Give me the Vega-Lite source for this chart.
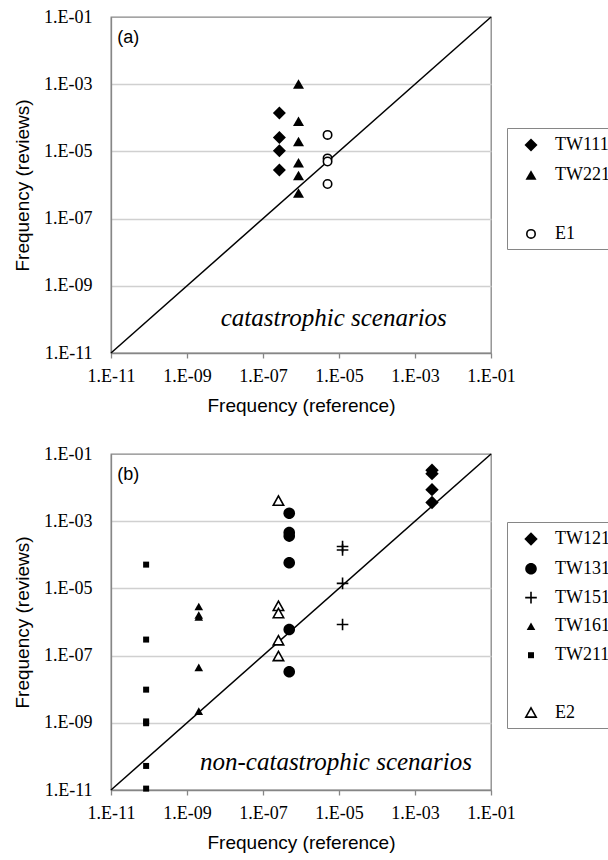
{
  "$schema": "https://vega.github.io/schema/vega-lite/v6.json",
  "autosize": {"type": "pad"},
  "padding": {"left": 12, "top": 7, "right": 0, "bottom": 0},
  "bounds": "flush",
  "spacing": 101,
  "datasets": {
    "diag": [
      {"ref": 1e-11, "rev": 1e-11},
      {"ref": 0.1, "rev": 0.1}
    ],
    "pointsA": [
      {"series": "TW111", "ref": 2.7e-7, "rev": 1.4e-4},
      {"series": "TW111", "ref": 2.7e-7, "rev": 2.6e-5},
      {"series": "TW111", "ref": 2.7e-7, "rev": 1.05e-5},
      {"series": "TW111", "ref": 2.7e-7, "rev": 2.8e-6},
      {"series": "TW221", "ref": 8.6e-7, "rev": 1.0e-3},
      {"series": "TW221", "ref": 8.6e-7, "rev": 7.7e-5},
      {"series": "TW221", "ref": 8.6e-7, "rev": 1.95e-5},
      {"series": "TW221", "ref": 8.6e-7, "rev": 4.5e-6},
      {"series": "TW221", "ref": 8.6e-7, "rev": 1.9e-6},
      {"series": "TW221", "ref": 8.6e-7, "rev": 5.7e-7},
      {"series": "E1", "ref": 5.0e-6, "rev": 3.1e-5},
      {"series": "E1", "ref": 5.0e-6, "rev": 6.2e-6},
      {"series": "E1", "ref": 5.0e-6, "rev": 5.0e-6},
      {"series": "E1", "ref": 5.0e-6, "rev": 1.07e-6}
    ],
    "pointsB": [
      {"series": "TW121", "ref": 2.8e-3, "rev": 3.3e-2},
      {"series": "TW121", "ref": 2.8e-3, "rev": 2.6e-2},
      {"series": "TW121", "ref": 2.8e-3, "rev": 8.7e-3},
      {"series": "TW121", "ref": 2.8e-3, "rev": 3.6e-3},
      {"series": "TW131", "ref": 4.9e-7, "rev": 1.73e-3},
      {"series": "TW131", "ref": 4.9e-7, "rev": 4.6e-4},
      {"series": "TW131", "ref": 4.9e-7, "rev": 3.6e-4},
      {"series": "TW131", "ref": 4.9e-7, "rev": 5.8e-5},
      {"series": "TW131", "ref": 4.9e-7, "rev": 6.0e-7},
      {"series": "TW131", "ref": 4.9e-7, "rev": 3.3e-8},
      {"series": "TW151", "ref": 1.24e-5, "rev": 1.76e-4},
      {"series": "TW151", "ref": 1.24e-5, "rev": 1.39e-4},
      {"series": "TW151", "ref": 1.24e-5, "rev": 1.41e-5},
      {"series": "TW151", "ref": 1.24e-5, "rev": 8.4e-7},
      {"series": "TW161", "ref": 2.04e-9, "rev": 2.84e-6},
      {"series": "TW161", "ref": 2.04e-9, "rev": 1.6e-6},
      {"series": "TW161", "ref": 2.04e-9, "rev": 1.4e-6},
      {"series": "TW161", "ref": 2.04e-9, "rev": 4.4e-8},
      {"series": "TW161", "ref": 2.04e-9, "rev": 2.2e-9},
      {"series": "TW211", "ref": 8.4e-11, "rev": 5.1e-5},
      {"series": "TW211", "ref": 8.4e-11, "rev": 3.0e-7},
      {"series": "TW211", "ref": 8.4e-11, "rev": 9.7e-9},
      {"series": "TW211", "ref": 8.4e-11, "rev": 1.1e-9},
      {"series": "TW211", "ref": 8.4e-11, "rev": 9.7e-10},
      {"series": "TW211", "ref": 8.4e-11, "rev": 5.2e-11},
      {"series": "TW211", "ref": 8.4e-11, "rev": 1.1e-11},
      {"series": "E2", "ref": 2.55e-7, "rev": 4.0e-3},
      {"series": "E2", "ref": 2.55e-7, "rev": 2.96e-6},
      {"series": "E2", "ref": 2.55e-7, "rev": 1.8e-6},
      {"series": "E2", "ref": 2.55e-7, "rev": 2.8e-7},
      {"series": "E2", "ref": 2.55e-7, "rev": 9.5e-8}
    ],
    "tagA": [{"ref": 1.45e-11, "rev": 2.3e-2, "label": "(a)"}],
    "noteA": [{"ref": 7.7e-9, "rev": 6.5e-11, "label": "catastrophic scenarios"}],
    "tagB": [{"ref": 1.45e-11, "rev": 2.3e-2, "label": "(b)"}],
    "noteB": [{"ref": 2.2e-9, "rev": 3.95e-11, "label": "non-catastrophic scenarios"}]
  },
  "vconcat": [
    {
      "width": 380,
      "height": 336,
      "layer": [
        {
          "data": {"name": "diag"},
          "mark": {"type": "line", "color": "black", "strokeWidth": 1.5},
          "encoding": {
            "x": {
              "field": "ref", "type": "quantitative",
              "scale": {"type": "log", "domain": [1e-11, 0.1], "nice": false},
              "axis": {
                "title": "Frequency (reference)",
                "values": [1e-11, 1e-9, 1e-7, 1e-5, 1e-3, 0.1],
                "labelExpr": "(round(log(datum.value)/LN10) > -10 ? '1.E-0' : '1.E-') + abs(round(log(datum.value)/LN10))",
                "grid": false, "tickSize": 5, "labelPadding": 9,
                "labelFlush": false, "labelOverlap": false,
                "titleY": 52, "titleBaseline": "middle"
              }
            },
            "y": {
              "field": "rev", "type": "quantitative",
              "scale": {"type": "log", "domain": [1e-11, 0.1], "nice": false},
              "axis": {
                "title": "Frequency (reviews)",
                "values": [1e-11, 1e-9, 1e-7, 1e-5, 1e-3, 0.1],
                "labelExpr": "(round(log(datum.value)/LN10) > -10 ? '1.E-0' : '1.E-') + abs(round(log(datum.value)/LN10))",
                "ticks": false, "labelPadding": 19,
                "labelFlush": false, "labelOverlap": false,
                "grid": true,
                "gridOpacity": {"condition": {"test": "datum.value > 0.05 || datum.value < 5e-11", "value": 0}, "value": 1},
                "titleX": -89, "titleBaseline": "middle"
              }
            }
          }
        },
        {
          "data": {"name": "pointsA"},
          "mark": {"type": "point", "opacity": 1, "size": 400, "strokeWidth": 1.6},
          "encoding": {
            "x": {"field": "ref", "type": "quantitative"},
            "y": {"field": "rev", "type": "quantitative"},
            "shape": {
              "field": "series", "type": "nominal",
              "scale": {
                "domain": ["TW111", "TW221", " ", "E1"],
                "range": [
                  "M0,-0.65L0.65,0L0,0.65L-0.65,0Z",
                  "M0,-0.5L0.55,0.45L-0.55,0.45Z",
                  "M0,0",
                  "M-0.42,0A0.42,0.42,0,1,1,0.42,0A0.42,0.42,0,1,1,-0.42,0Z"
                ]
              },
              "legend": {
                "orient": "none", "legendX": 396, "legendY": 111,
                "title": null, "strokeColor": "#868686", "fillColor": "white",
                "padding": 6, "symbolSize": 400, "symbolStrokeWidth": 1.6,
                "symbolOpacity": 1, "rowPadding": 9.3,
                "symbolOffset": 7, "labelOffset": 13,
                "labelFont": "Liberation Serif", "labelFontSize": 18, "labelColor": "black"
              }
            },
            "fill": {
              "field": "series", "type": "nominal",
              "scale": {"domain": ["TW111", "TW221", " ", "E1"], "range": ["black", "black", "transparent", "white"]}
            },
            "stroke": {
              "field": "series", "type": "nominal",
              "scale": {"domain": ["TW111", "TW221", " ", "E1"], "range": ["transparent", "transparent", "transparent", "black"]}
            }
          }
        },
        {
          "data": {"name": "tagA"},
          "mark": {"type": "text", "font": "Liberation Sans", "fontSize": 18, "align": "left", "baseline": "middle", "color": "black"},
          "encoding": {
            "x": {"field": "ref", "type": "quantitative"},
            "y": {"field": "rev", "type": "quantitative"},
            "text": {"field": "label"}
          }
        },
        {
          "data": {"name": "noteA"},
          "mark": {"type": "text", "font": "Liberation Serif", "fontStyle": "italic", "fontSize": 25, "align": "left", "baseline": "alphabetic", "color": "black"},
          "encoding": {
            "x": {"field": "ref", "type": "quantitative"},
            "y": {"field": "rev", "type": "quantitative"},
            "text": {"field": "label"}
          }
        }
      ]
    },
    {
      "width": 380,
      "height": 336,
      "layer": [
        {
          "data": {"name": "diag"},
          "mark": {"type": "line", "color": "black", "strokeWidth": 1.5},
          "encoding": {
            "x": {
              "field": "ref", "type": "quantitative",
              "scale": {"type": "log", "domain": [1e-11, 0.1], "nice": false},
              "axis": {
                "title": "Frequency (reference)",
                "values": [1e-11, 1e-9, 1e-7, 1e-5, 1e-3, 0.1],
                "labelExpr": "(round(log(datum.value)/LN10) > -10 ? '1.E-0' : '1.E-') + abs(round(log(datum.value)/LN10))",
                "grid": false, "tickSize": 5, "labelPadding": 9,
                "labelFlush": false, "labelOverlap": false,
                "titleY": 52, "titleBaseline": "middle"
              }
            },
            "y": {
              "field": "rev", "type": "quantitative",
              "scale": {"type": "log", "domain": [1e-11, 0.1], "nice": false},
              "axis": {
                "title": "Frequency (reviews)",
                "values": [1e-11, 1e-9, 1e-7, 1e-5, 1e-3, 0.1],
                "labelExpr": "(round(log(datum.value)/LN10) > -10 ? '1.E-0' : '1.E-') + abs(round(log(datum.value)/LN10))",
                "ticks": false, "labelPadding": 19,
                "labelFlush": false, "labelOverlap": false,
                "grid": true,
                "gridOpacity": {"condition": {"test": "datum.value > 0.05 || datum.value < 5e-11", "value": 0}, "value": 1},
                "titleX": -89, "titleBaseline": "middle"
              }
            }
          }
        },
        {
          "data": {"name": "pointsB"},
          "mark": {"type": "point", "opacity": 1, "size": 400, "strokeWidth": 1.6},
          "encoding": {
            "x": {"field": "ref", "type": "quantitative"},
            "y": {"field": "rev", "type": "quantitative"},
            "shape": {
              "field": "series", "type": "nominal",
              "scale": {
                "domain": ["TW121", "TW131", "TW151", "TW161", "TW211", " ", "E2"],
                "range": [
                  "M0,-0.67L0.67,0L0,0.67L-0.67,0Z",
                  "M-0.58,0A0.58,0.58,0,1,1,0.58,0A0.58,0.58,0,1,1,-0.58,0Z",
                  "M-0.58,0L0.58,0M0,-0.58L0,0.58",
                  "M0,-0.4L0.43,0.36L-0.43,0.36Z",
                  "M-0.3,-0.3L0.3,-0.3L0.3,0.3L-0.3,0.3Z",
                  "M0,0",
                  "M0,-0.5L0.52,0.43L-0.52,0.43Z"
                ]
              },
              "legend": {
                "orient": "none", "legendX": 396, "legendY": 68,
                "title": null, "strokeColor": "#868686", "fillColor": "white",
                "padding": 6, "symbolSize": 400, "symbolStrokeWidth": 1.6,
                "symbolOpacity": 1, "rowPadding": 8.8,
                "symbolOffset": 7, "labelOffset": 13,
                "labelFont": "Liberation Serif", "labelFontSize": 18, "labelColor": "black"
              }
            },
            "fill": {
              "field": "series", "type": "nominal",
              "scale": {
                "domain": ["TW121", "TW131", "TW151", "TW161", "TW211", " ", "E2"],
                "range": ["black", "black", "transparent", "black", "black", "transparent", "white"]
              }
            },
            "stroke": {
              "field": "series", "type": "nominal",
              "scale": {
                "domain": ["TW121", "TW131", "TW151", "TW161", "TW211", " ", "E2"],
                "range": ["transparent", "transparent", "black", "transparent", "transparent", "transparent", "black"]
              }
            }
          }
        },
        {
          "data": {"name": "tagB"},
          "mark": {"type": "text", "font": "Liberation Sans", "fontSize": 18, "align": "left", "baseline": "middle", "color": "black"},
          "encoding": {
            "x": {"field": "ref", "type": "quantitative"},
            "y": {"field": "rev", "type": "quantitative"},
            "text": {"field": "label"}
          }
        },
        {
          "data": {"name": "noteB"},
          "mark": {"type": "text", "font": "Liberation Serif", "fontStyle": "italic", "fontSize": 25, "align": "left", "baseline": "alphabetic", "color": "black"},
          "encoding": {
            "x": {"field": "ref", "type": "quantitative"},
            "y": {"field": "rev", "type": "quantitative"},
            "text": {"field": "label"}
          }
        }
      ]
    }
  ],
  "resolve": {
    "scale": {"shape": "independent", "fill": "independent", "stroke": "independent"},
    "legend": {"shape": "independent", "fill": "independent", "stroke": "independent"}
  },
  "config": {
    "background": "white",
    "view": {"stroke": "#868686", "strokeWidth": 1.3},
    "axis": {
      "domainColor": "#868686", "domainWidth": 1.3,
      "tickColor": "#868686", "tickWidth": 1.3,
      "gridColor": "#d0d0d0", "gridWidth": 1.3,
      "labelFont": "Liberation Serif", "labelFontSize": 18, "labelColor": "black",
      "titleFont": "Liberation Sans", "titleFontSize": 19, "titleFontWeight": "normal", "titleColor": "black"
    }
  }
}
